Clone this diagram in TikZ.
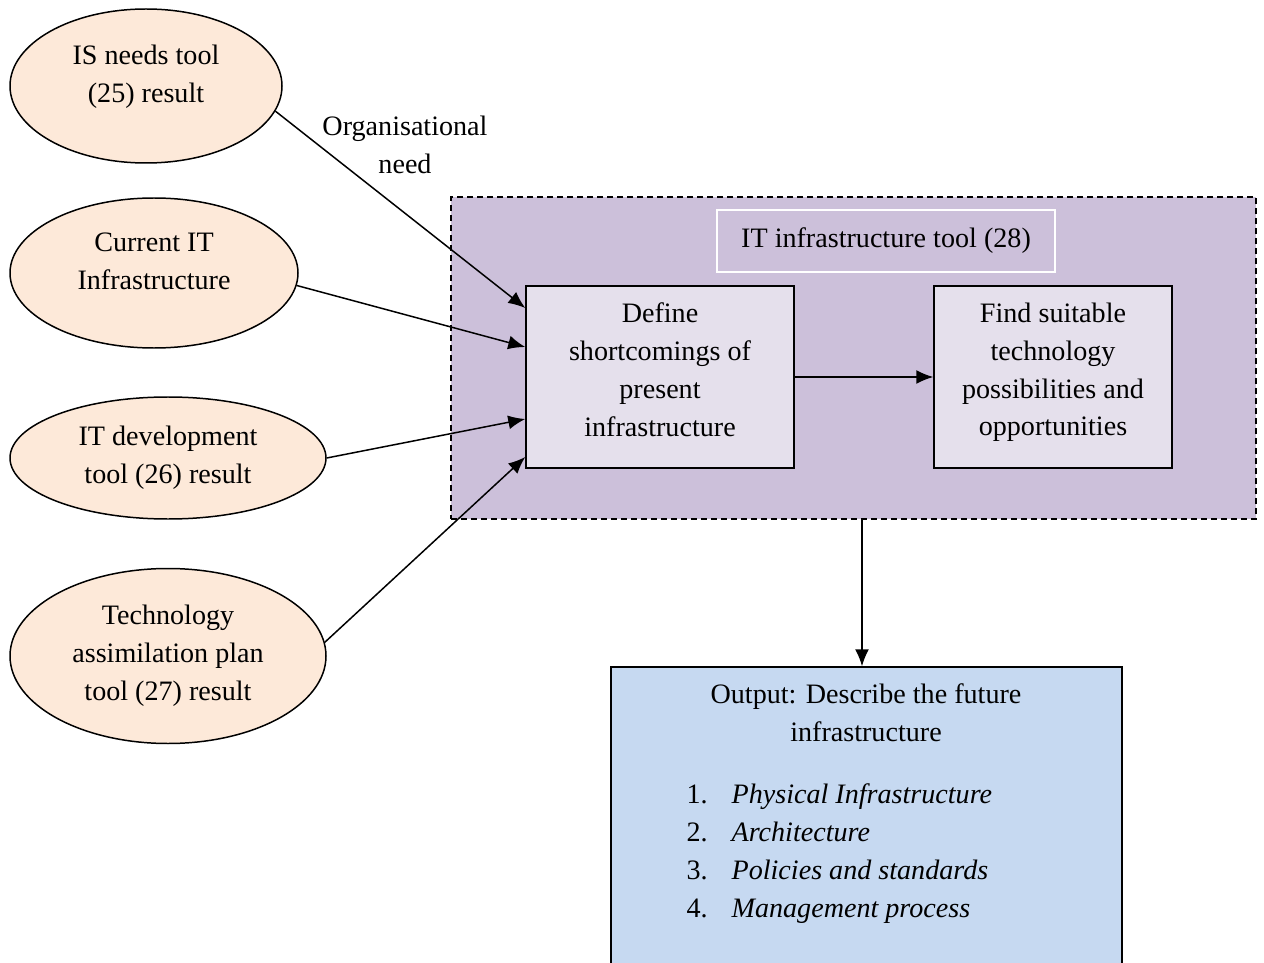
\documentclass[tikz,border=0pt]{standalone}
\usepackage{fontspec}
\setmainfont{Liberation Serif}
\usetikzlibrary{arrows.meta,shapes.geometric,positioning}

\definecolor{peach}{HTML}{FDE9D9}
\definecolor{lavender}{HTML}{CCC0DA}
\definecolor{lilac}{HTML}{E5E0EC}
\definecolor{paleblue}{HTML}{C6D9F1}

\newcommand{\listitem}[2]{\makebox[0.9cm][l]{#1}\textit{#2}}

\begin{document}
\begin{tikzpicture}[>={Latex[length=3.4mm,width=2.8mm]},line width=0.85pt,
  font=\fontsize{16pt}{21.5pt}\selectfont,
  inell/.style={draw, ellipse, fill=peach, align=center, inner sep=0pt},
  stepbox/.style={draw, fill=lilac, align=center, minimum height=3.64cm, inner sep=2pt, text depth=0.3cm}]
  \useasboundingbox (0,0) rectangle (25.28,-19.26);

  % tool frame
  \node[draw, dashed, dash pattern=on 1.2mm off 0.8mm, fill=lavender, minimum width=16.1cm, minimum height=6.44cm] (tool) at (17.07,-7.16) {};
  \node[draw=white, line width=1.2pt, minimum width=6.76cm, minimum height=1.24cm] (title) at (17.72,-4.82) {IT infrastructure tool (28)};

  \node[stepbox, minimum width=5.36cm] (define) at (13.2,-7.54) {Define\\shortcomings of\\present\\infrastructure};
  \node[stepbox, minimum width=4.76cm] (find)   at (21.06,-7.54) {Find suitable\\technology\\possibilities and\\opportunities};

  % input ellipses
  \node[inell, minimum width=5.44cm, minimum height=3.08cm, text depth=0.48cm] (ell1) at (2.92,-1.72) {IS needs tool\\(25) result};
  \node[inell, minimum width=5.76cm, minimum height=3.0cm, text depth=0.46cm]  (ell2) at (3.08,-5.46) {Current IT\\Infrastructure};
  \node[inell, minimum width=6.32cm, minimum height=2.44cm] (ell3) at (3.36,-9.16) {IT development\\tool (26) result};
  \node[inell, minimum width=6.32cm, minimum height=3.5cm]  (ell4) at (3.36,-13.12) {Technology\\assimilation plan\\tool (27) result};

  \node[align=center] (orgneed) at (8.1,-2.9) {Organisational\\need};

  % output
  \node[draw, fill=paleblue, minimum width=10.22cm, minimum height=5.98cm] (out) at (17.33,-16.33) {};
  \node[align=center] (outhead) at (17.32,-14.26) {Output: Describe the future\\infrastructure};
  \node[align=left, anchor=west] (outlist) at (13.6,-17.07) {\listitem{1.}{Physical Infrastructure}\\\listitem{2.}{Architecture}\\\listitem{3.}{Policies and standards}\\\listitem{4.}{Management process}};

  \draw[->] (ell1.-11) -- ([yshift=1.38cm]define.west);
  \draw[->] (ell2.-5)  -- ([yshift=0.6cm]define.west);
  \draw[->] (ell3.east) -- ([yshift=-0.84cm]define.west);
  \draw[->] (ell4.5)   -- ([yshift=-1.6cm]define.west);
  \draw[->] (define) -- (find);
  \draw[->] ([xshift=-0.09cm]out.north |- tool.south) -- ([xshift=-0.09cm]out.north);
\end{tikzpicture}
\end{document}
